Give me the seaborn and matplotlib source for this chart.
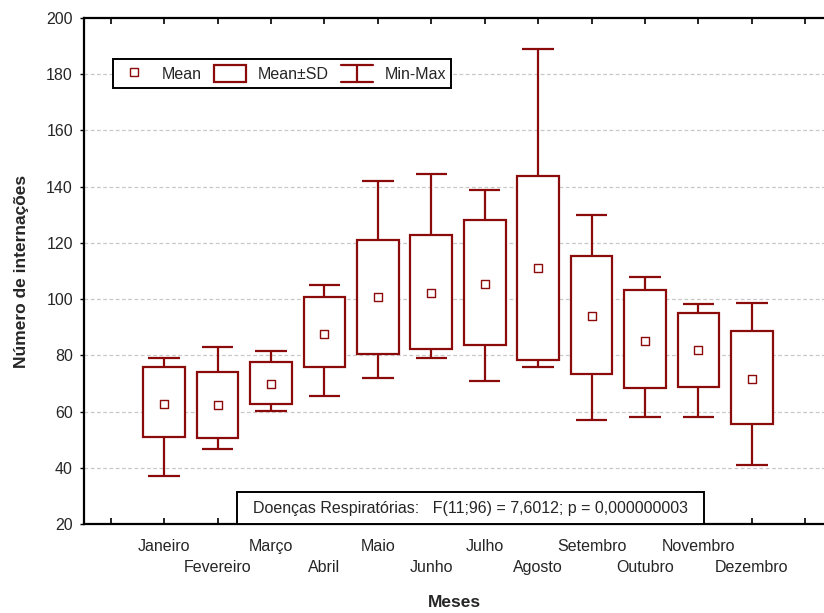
import numpy as np
import pandas as pd
import matplotlib
matplotlib.use("Agg")
import matplotlib.pyplot as plt
import seaborn as sns
from matplotlib.legend_handler import HandlerBase
from matplotlib.lines import Line2D
from matplotlib.patches import Patch, Rectangle

months = ["Janeiro", "Fevereiro", "Março", "Abril", "Maio", "Junho",
          "Julho", "Agosto", "Setembro", "Outubro", "Novembro", "Dezembro"]
means = [62.8, 62.2, 69.9, 87.6, 100.7, 102.2, 105.4, 111.1, 94.0, 85.1, 81.9, 71.6]
sd_low = [51.1, 50.5, 62.6, 76.0, 80.5, 82.2, 83.7, 78.3, 73.5, 68.3, 68.8, 55.6]
sd_high = [76.0, 74.0, 77.7, 100.7, 121.0, 122.9, 128.0, 143.9, 115.2, 103.2, 94.9, 88.7]
mins = [37.2, 46.7, 60.1, 65.6, 72.0, 79.0, 70.9, 76.0, 56.9, 58.1, 58.1, 41.0]
maxs = [79.0, 83.0, 81.7, 105.0, 142.0, 144.5, 138.8, 189.0, 129.9, 107.7, 98.1, 98.7]
yticks = [20, 40, 60, 80, 100, 120, 140, 160, 180, 200]
annot = "Doenças Respiratórias:   F(11;96) = 7,6012; p = 0,000000003"

RED = "#8B0A0A"
FS = 11.5

sns.set_theme(style="white")
plt.rcParams["font.family"] = ["Liberation Sans", "DejaVu Sans"]

df = pd.DataFrame({"mes": months, "mean": means, "lo": sd_low, "hi": sd_high,
                   "mn": mins, "mx": maxs})
df["pos"] = np.arange(len(df))

fig = plt.figure(figsize=(8.24, 6.13), dpi=100)
ax = fig.add_axes([84/824, 1-524/613, 1-84/824, (524-18)/613])

# grid
for t in yticks[1:-1]:
    ax.axhline(t, color="#c8c8c8", lw=0.9, ls=(0, (3, 2)), zorder=0)

bw = 0.78
cw = 0.59
# boxes (Mean ± SD)
ax.bar(df["pos"], df["hi"] - df["lo"], bottom=df["lo"], width=bw,
       facecolor="white", edgecolor=RED, linewidth=1.6, zorder=3)
# whiskers (Min-Max)
ax.vlines(df["pos"], df["hi"], df["mx"], color=RED, lw=1.6, zorder=2)
ax.vlines(df["pos"], df["mn"], df["lo"], color=RED, lw=1.6, zorder=2)
ax.hlines(df["mx"], df["pos"] - cw/2, df["pos"] + cw/2, color=RED, lw=1.6, zorder=2)
ax.hlines(df["mn"], df["pos"] - cw/2, df["pos"] + cw/2, color=RED, lw=1.6, zorder=2)
# means
sns.scatterplot(data=df, x="pos", y="mean", marker="s", s=34, facecolor="white",
                edgecolor=RED, linewidth=1.0, zorder=4, ax=ax, legend=False)

ax.set_xlim(-1.5, 12.35)
ax.set_ylim(20, 200)
ax.set_yticks(yticks)
ax.set_yticklabels([str(t) for t in yticks], fontsize=FS)

# major ticks at every slot, labels for the first row (even months)
ax.xaxis.remove_overlapping_locs = False
ticks = list(range(-1, 13))
row1 = [""] + [m if i % 2 == 0 else "" for i, m in enumerate(months)] + [""]
ax.set_xticks(ticks)
ax.set_xticklabels(row1, fontsize=FS)
ax.tick_params(axis="x", which="major", direction="in", length=4, width=1.2,
               color="black", top=True, bottom=True, pad=11)
# minor ticks carry the second row (odd months)
odd_pos = [i for i in range(len(months)) if i % 2 == 1]
ax.set_xticks(odd_pos, minor=True)
ax.set_xticklabels([months[i] for i in odd_pos], minor=True, fontsize=FS)
ax.tick_params(axis="x", which="minor", length=0, top=False, bottom=True, pad=26)

ax.tick_params(axis="y", direction="out", length=3, width=1.0, color="black",
               left=True, pad=5)
for s in ["left", "top", "bottom"]:
    ax.spines[s].set_color("black")
    ax.spines[s].set_linewidth(1.6)
ax.spines["right"].set_visible(False)

ax.set_xlabel("Meses", fontsize=12.5, fontweight="bold")
ax.xaxis.set_label_coords(0.5, -0.141)
ax.set_ylabel("Número de internações", fontsize=12.5, fontweight="bold", labelpad=12)


class HandlerMinMax(HandlerBase):
    def create_artists(self, legend, orig_handle, xdescent, ydescent,
                       width, height, fontsize, trans):
        x0, x1 = -xdescent, width - xdescent
        y0, y1 = -ydescent, height - ydescent
        cx = (x0 + x1) / 2
        arts = [Line2D([x0, x1], [y1, y1]), Line2D([cx, cx], [y0, y1]),
                Line2D([x0, x1], [y0, y0])]
        for a in arts:
            a.set_color(RED)
            a.set_linewidth(1.6)
            a.set_transform(trans)
        return arts


class MinMaxKey:
    pass


h_mean = Line2D([], [], marker="s", ls="none", mfc="white", mec=RED, mew=1.0, ms=5.5)
h_box = Patch(facecolor="white", edgecolor=RED, linewidth=1.6)
h_mm = MinMaxKey()
leg = ax.legend([h_mean, h_box, h_mm], ["Mean", "Mean±SD", "Min-Max"],
                handler_map={MinMaxKey: HandlerMinMax()},
                ncol=3, loc="upper left", bbox_to_anchor=(0.039, 0.919),
                fontsize=FS, frameon=True, fancybox=False, framealpha=1,
                edgecolor="black", handlelength=2.0, handleheight=1.3,
                columnspacing=0.8, handletextpad=0.7, borderpad=0.35,
                borderaxespad=0)
leg.get_frame().set_linewidth(1.4)

# annotation box
rx0 = (236.7 - 84) / 740
rw = (704 - 236.7) / 740
rh = 32 / 506
ax.add_patch(Rectangle((rx0, 0), rw, rh, transform=ax.transAxes, facecolor="white",
                       edgecolor="black", linewidth=1.4, zorder=5))
ax.text(rx0 + rw/2, rh/2, annot, transform=ax.transAxes, ha="center", va="center",
        fontsize=FS, zorder=6)

fig.savefig("out.png", dpi=100)
